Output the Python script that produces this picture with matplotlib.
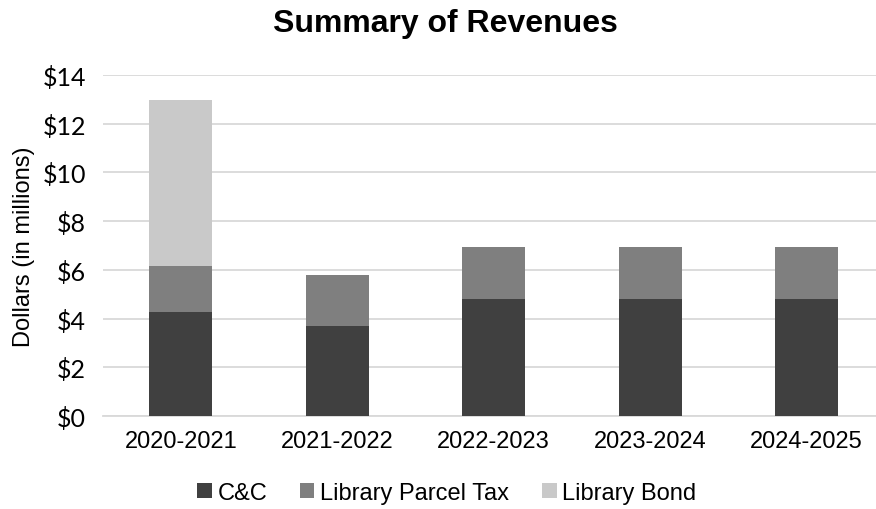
import matplotlib
matplotlib.use("Agg")
import matplotlib.pyplot as plt
import numpy as np

years = ["2020-2021", "2021-2022", "2022-2023", "2023-2024", "2024-2025"]
cc = [4.27, 3.70, 4.82, 4.82, 4.82]
parcel = [1.88, 2.09, 2.11, 2.11, 2.11]
bond = [6.83, 0, 0, 0, 0]
series_names = ["C&C", "Library Parcel Tax", "Library Bond"]
colors = ["#404040", "#7f7f7f", "#c9c9c9"]
yticks = [0, 2, 4, 6, 8, 10, 12, 14]
ytick_labels = ["$0", "$2", "$4", "$6", "$8", "$10", "$12", "$14"]

fig = plt.figure(figsize=(8.76, 5.10), dpi=100)
W, H = 876, 510
left_px, right_px, bottom_px, top_px = 102.5, 876, 417, 76
ax = fig.add_axes([left_px / W, 1 - bottom_px / H, (right_px - left_px) / W, (bottom_px - top_px) / H])

x = np.arange(len(years))
bw = 0.40
b1 = ax.bar(x, cc, bw, color=colors[0], label=series_names[0], zorder=3)
b2 = ax.bar(x, parcel, bw, bottom=cc, color=colors[1], label=series_names[1], zorder=3)
bottom2 = [a + b for a, b in zip(cc, parcel)]
b3 = ax.bar(x, bond, bw, bottom=bottom2, color=colors[2], label=series_names[2], zorder=3)

cat_w = 156.5
ax.set_xlim(-0.5, -0.5 + (right_px - left_px) / cat_w)
ax.set_ylim(0, 14)
ax.set_yticks(yticks)
ax.set_yticklabels(ytick_labels, fontfamily="Lato", fontsize=18)
ax.set_xticks(x)
ax.set_xticklabels(years, fontfamily="Liberation Sans", fontsize=17)
ax.tick_params(axis="both", length=0)
ax.tick_params(axis="y", pad=12)
ax.tick_params(axis="x", pad=10)
ax.grid(axis="y", color="#d9d9d9", linewidth=1.3, zorder=0)
for s in ["top", "right", "left"]:
    ax.spines[s].set_visible(False)
ax.spines["bottom"].set_color("#d9d9d9")
ax.spines["bottom"].set_linewidth(1.3)

ax.set_ylabel("Dollars (in millions)", fontfamily="Liberation Sans", fontsize=17)
ax.yaxis.set_label_coords(-(left_px - 35) / (right_px - left_px), 0.5)
fig.text(445 / W, 1 - 24 / H, "Summary of Revenues", ha="center", va="center",
         fontfamily="Liberation Sans", fontweight="bold", fontsize=23)

leg = fig.legend(handles=[b1, b2, b3], labels=series_names, loc="center",
                 bbox_to_anchor=(447 / W, 1 - 494 / H), ncol=3, frameon=False,
                 prop={"family": "Liberation Sans", "size": 17},
                 handlelength=0.6, handleheight=0.6, handletextpad=0.25, columnspacing=1.4)

fig.savefig("out.png", dpi=100)
